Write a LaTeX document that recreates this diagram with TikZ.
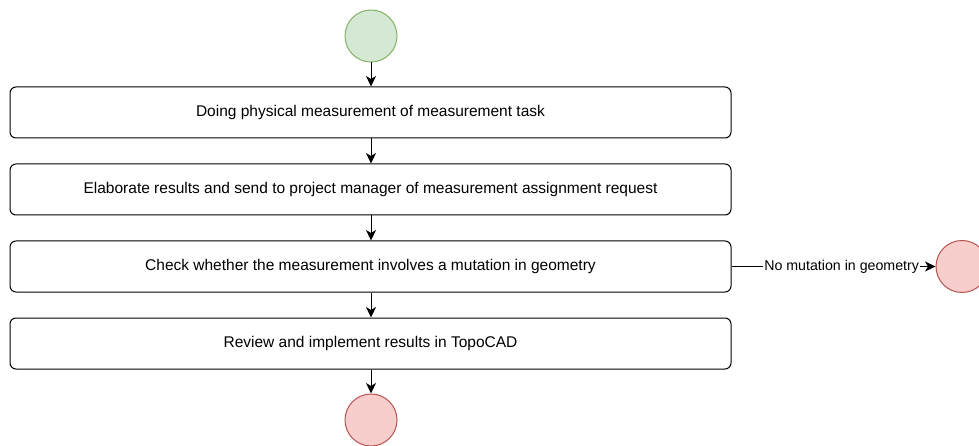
\documentclass[tikz,border=0pt]{standalone}
\usepackage{fontspec}
\setmainfont{Liberation Sans}
\usetikzlibrary{arrows.meta}
\definecolor{gfill}{HTML}{D5E8D4}
\definecolor{gline}{HTML}{82B366}
\definecolor{rfill}{HTML}{F8CECC}
\definecolor{rline}{HTML}{B85450}
\begin{document}
\begin{tikzpicture}[x=1pt,y=-1pt,
  stepbox/.style={draw=black,line width=1pt,rounded corners=6pt,minimum width=721pt,minimum height=51pt,inner sep=0pt,font=\fontsize{15.5}{18}\selectfont},
  startnode/.style={circle,draw=gline,fill=gfill,line width=1pt,minimum size=52pt,inner sep=0pt},
  endnode/.style={circle,draw=rline,fill=rfill,line width=1pt,minimum size=52pt,inner sep=0pt},
  flow/.style={draw=black,line width=1pt,-{Stealth[length=10.5pt,width=10pt,inset=3pt]}},
  lbl/.style={fill=white,inner sep=1pt,font=\fontsize{14.2}{16}\selectfont}]
\clip (0,0) rectangle (979,446);
\node[startnode] (s) at (371,36) {};
\node[stepbox] (b1) at (370.5,112.5) {Doing physical measurement of measurement task};
\node[stepbox] (b2) at (370.5,189.5) {Elaborate results and send to project manager of measurement assignment request};
\node[stepbox] (b3) at (370.5,266.5) {Check whether the measurement involves a mutation in geometry};
\node[stepbox] (b4) at (370.5,343.5) {Review and implement results in TopoCAD};
\node[endnode] (e1) at (371,420) {};
\node[endnode] (e2) at (962,266.5) {};
\draw[flow] (s) -- (s|-b1.north);
\draw[flow] (b1.south-|s) -- (s|-b2.north);
\draw[flow] (b2.south-|s) -- (s|-b3.north);
\draw[flow] (b3.south-|s) -- (s|-b4.north);
\draw[flow] (b4.south-|s) -- (e1);
\draw[flow] (b3) -- node[lbl,pos=0.54] {No mutation in geometry} (e2);
\end{tikzpicture}
\end{document}
